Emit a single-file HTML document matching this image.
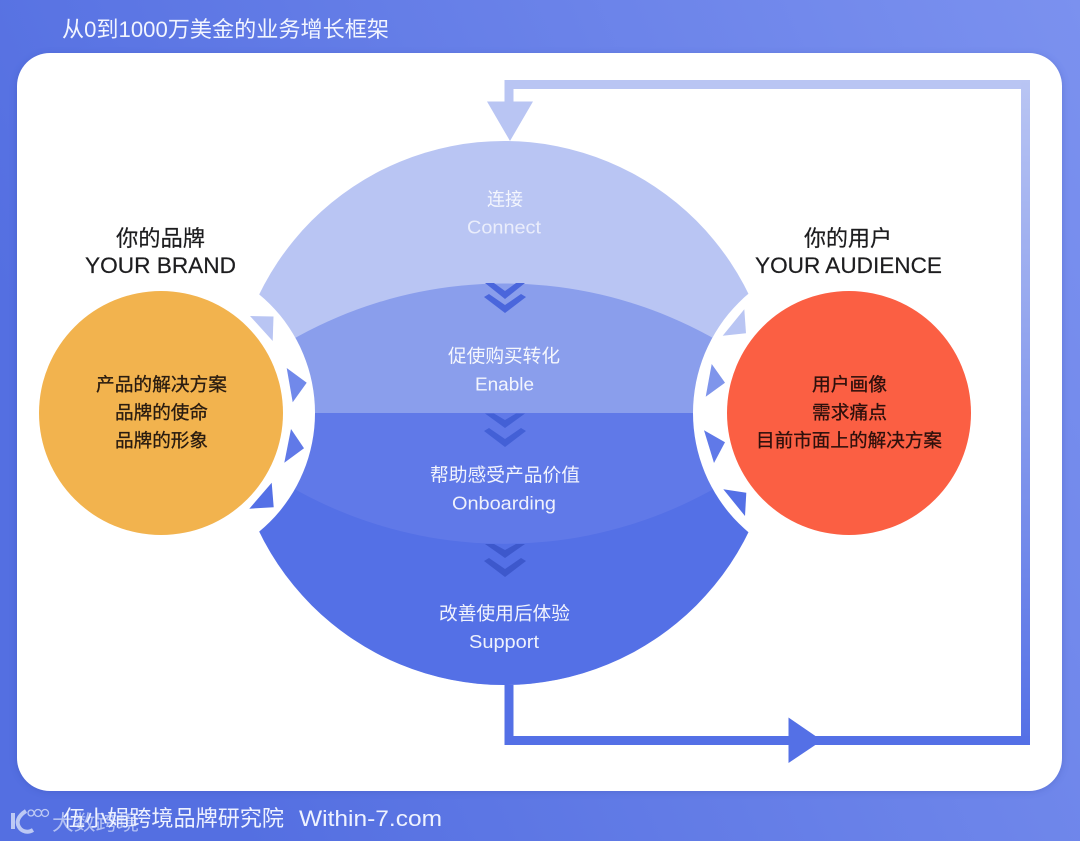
<!DOCTYPE html>
<html lang="zh">
<head>
<meta charset="utf-8">
<title>从0到1000万美金的业务增长框架</title>
<style>
html,body{margin:0;padding:0;width:1080px;height:841px;overflow:hidden;background:#5f79e6}
svg{display:block}
text{font-family:"Liberation Sans","Noto Sans CJK SC",sans-serif}
</style>
</head>
<body>
<svg xmlns="http://www.w3.org/2000/svg" width="1080" height="841" viewBox="0 0 1080 841">
<defs>
<linearGradient id="bg" x1="0" y1="0.35" x2="1" y2="0">
<stop offset="0" stop-color="#546fe1"/><stop offset="1" stop-color="#7b91ef"/>
</linearGradient>
<linearGradient id="side" x1="0" y1="0" x2="0" y2="1">
<stop offset="0" stop-color="#b9c5f3"/><stop offset="1" stop-color="#5470e6"/>
</linearGradient>
<filter id="sh" x="-5%" y="-5%" width="110%" height="110%">
<feGaussianBlur stdDeviation="4"/>
</filter>
<clipPath id="big"><circle cx="504" cy="413" r="272"/></clipPath>
<clipPath id="card"><rect x="17" y="53" width="1045" height="738" rx="33"/></clipPath>
</defs>

<rect width="1080" height="841" fill="url(#bg)"/>
<rect x="17" y="55" width="1045" height="736" rx="33" fill="#2c3f9c" opacity=".3" filter="url(#sh)"/>
<rect x="17" y="53" width="1045" height="738" rx="33" fill="#fff"/>

<text x="62" y="37" font-size="22" fill="#f2f5ff" textLength="327" lengthAdjust="spacingAndGlyphs">从0到1000万美金的业务增长框架</text>

<!-- connectors -->
<rect x="504.500" y="80" width="9" height="30" fill="#b9c5f3"/>
<rect x="504.500" y="80" width="525.500" height="9" fill="#b9c5f3"/>
<rect x="1021" y="80" width="9" height="665" fill="url(#side)"/>
<rect x="504.500" y="680" width="9" height="65" fill="#5470e6"/>
<rect x="504.500" y="736" width="525.500" height="9" fill="#5470e6"/>
<polygon points="487,101.500 533,101.500 510,141" fill="#b9c5f3"/>
<polygon points="788.500,717.500 788.500,763 822,740.500" fill="#5470e6"/>

<!-- funnel -->
<g clip-path="url(#big)">
<rect x="200" y="130" width="620" height="570" fill="#b9c5f3"/>
<path d="M196.800 413.500A428 428 0 0 1 811.200 413.500Z" fill="#8a9eec"/>
<rect x="200" y="413" width="620" height="287" fill="#5470e6"/>
<path d="M196 413A428 428 0 0 0 812 413Z" fill="#6079e8"/>
</g>

<!-- rings -->
<g clip-path="url(#card)">
<circle cx="161" cy="413" r="154" fill="#fff"/>
<circle cx="849" cy="413" r="156" fill="#fff"/>
</g>
<circle cx="161" cy="413" r="122" fill="#f2b34e"/>
<circle cx="849" cy="413" r="122" fill="#fb5f43"/>

<!-- left triangles -->
<polygon points="250,316 273.500,316.500 272.700,341" fill="#b9c5f3"/>
<polygon points="286.700,368 306.700,382.700 292.700,402.300" fill="#7189ea"/>
<polygon points="291,429 304,448.300 284.300,462.700" fill="#6079e8"/>
<polygon points="271.700,482.700 273.700,507.300 249.300,508.700" fill="#5470e6"/>
<!-- right triangles -->
<polygon points="744.300,309.300 746,333.300 722.700,335.700" fill="#b9c5f3"/>
<polygon points="711.700,364 725,382.700 705.700,396.700" fill="#7f95eb"/>
<polygon points="704,430.300 725,442.300 714,463" fill="#6079e8"/>
<polygon points="723.300,489.300 746.300,492.700 745,516" fill="#5470e6"/>

<!-- chevrons -->
<g fill="#4a66dc">
<polygon points="485,283 494,283 505,291 516,283 525,283 505,299"/>
<polygon points="484,297 489,294 505,305 521,294 526,297 505,313"/>
</g>
<g fill="#4360d6">
<polygon points="485,413.500 494,413.500 505,420 516,413.500 525,413.500 505,428"/>
<polygon points="484,431 489,428 505,439 521,428 526,431 505,447"/>
</g>
<g fill="#3d58cc">
<polygon points="485,544 494,544 505,550 516,544 525,544 505,558"/>
<polygon points="484,561 489,558 505,569 521,558 526,561 505,577"/>
</g>

<!-- funnel labels -->
<g fill="#fff">
<text x="487" y="205.500" font-size="18" opacity=".85" textLength="36" lengthAdjust="spacingAndGlyphs">连接</text>
<text x="467" y="233.500" font-size="18" opacity=".7" textLength="74" lengthAdjust="spacingAndGlyphs">Connect</text>
<text x="448" y="362.500" font-size="18.500" opacity=".92" textLength="112" lengthAdjust="spacingAndGlyphs">促使购买转化</text>
<text x="475" y="390.500" font-size="18" opacity=".9" textLength="59" lengthAdjust="spacingAndGlyphs">Enable</text>
<text x="430" y="481.500" font-size="18.500" opacity=".92" textLength="150" lengthAdjust="spacingAndGlyphs">帮助感受产品价值</text>
<text x="452" y="509.500" font-size="18" opacity=".9" textLength="104" lengthAdjust="spacingAndGlyphs">Onboarding</text>
<text x="439" y="620" font-size="18.500" opacity=".92" textLength="131" lengthAdjust="spacingAndGlyphs">改善使用后体验</text>
<text x="469" y="648" font-size="18" opacity=".9" textLength="70" lengthAdjust="spacingAndGlyphs">Support</text>
</g>

<!-- side headings -->
<g fill="#1d1d1f" stroke="#1d1d1f" stroke-width=".2">
<text x="116" y="246" font-size="22" textLength="89" lengthAdjust="spacingAndGlyphs">你的品牌</text>
<text x="85" y="273" font-size="22" textLength="151" lengthAdjust="spacingAndGlyphs">YOUR BRAND</text>
<text x="804" y="246" font-size="22" textLength="88" lengthAdjust="spacingAndGlyphs">你的用户</text>
<text x="755" y="273" font-size="22" textLength="187" lengthAdjust="spacingAndGlyphs">YOUR AUDIENCE</text>
</g>

<!-- circle labels -->
<g fill="#2a1c10" stroke="#2a1c10" stroke-width=".3" font-size="18.500">
<text x="96" y="391" textLength="131" lengthAdjust="spacingAndGlyphs">产品的解决方案</text>
<text x="115" y="419" textLength="93" lengthAdjust="spacingAndGlyphs">品牌的使命</text>
<text x="115" y="447" textLength="93" lengthAdjust="spacingAndGlyphs">品牌的形象</text>
</g>
<g fill="#2e100c" stroke="#2e100c" stroke-width=".3" font-size="18.500">
<text x="812" y="391" textLength="75" lengthAdjust="spacingAndGlyphs">用户画像</text>
<text x="812" y="419" textLength="75" lengthAdjust="spacingAndGlyphs">需求痛点</text>
<text x="756" y="447" textLength="186" lengthAdjust="spacingAndGlyphs">目前市面上的解决方案</text>
</g>

<!-- footer -->
<text x="52" y="830" font-size="21" fill="#c9d3f7" opacity=".8" textLength="87" lengthAdjust="spacingAndGlyphs">大数跨境</text>
<text x="63" y="826" font-size="22" fill="#eef2ff" textLength="221" lengthAdjust="spacingAndGlyphs">伍小娟跨境品牌研究院</text>
<text x="299" y="826" font-size="22" fill="#eef2ff" textLength="143" lengthAdjust="spacingAndGlyphs">Within-7.com</text>
<g fill="none" stroke="#c9d3f7" opacity=".9">
<path d="M13 813V829" stroke-width="4"/>
<path d="M26 811C18 816 16 822 19 827C22 832 28 833 33 830" stroke-width="4"/>
<circle cx="31" cy="813" r="3" stroke-width="1.300"/>
<circle cx="38" cy="813" r="3.500" stroke-width="1.300"/>
<circle cx="45" cy="813" r="3.500" stroke-width="1.300"/>
</g>
</svg>
</body>
</html>
